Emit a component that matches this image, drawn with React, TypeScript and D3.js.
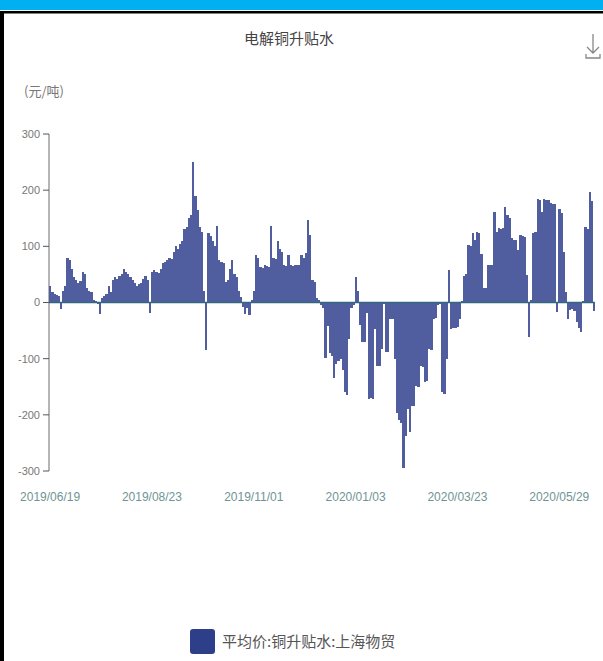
import { useEffect, useRef } from 'react';
import * as d3 from 'd3';

// one value per trading day (yuan / tonne)
const values = [
  30, 18, 15, 14, 12, -12, 20, 30, 80, 75,
  60, 45, 40, 35, 38, 55, 50, 25, 20, 18,
  5, 2, -3, -20, 8, 12, 15, 30, 18, 40,
  45, 42, 48, 50, 60, 55, 50, 45, 40, 35,
  30, 33, 35, 42, 48, 40, -18, 55, 58, 55,
  52, 60, 70, 72, 75, 80, 78, 90, 100, 95,
  105, 110, 130, 135, 150, 155, 250, 190, 165, 135,
  125, 20, -85, 123, 118, 110, 100, 137, 75, 72,
  70, 37, 40, 60, 75, 50, 45, 20, 10, -8,
  -20, -10, -22, 5, 20, 84, 80, 64, 62, 66,
  65, 63, 137, 80, 78, 110, 96, 90, 66, 65,
  84, 66, 65, 67, 66, 66, 84, 80, 88, 147,
  120, 40, 36, 8, 5, -5, -9, -98, -42, -90,
  -95, -134, -110, -105, -100, -120, -160, -165, -65, -10,
  -5, 45, 20, -40, -71, -70, -18, -172, -170, -172,
  -48, -113, -113, -83, -3, -89, -89, -30, -30, -100,
  -196, -210, -214, -295, -237, -190, -230, -184, -184, -148,
  -150, -113, -115, -142, -140, -83, -85, -30, -28, -5,
  -3, -160, -163, -100, 57, -47, -46, -45, -44, -30,
  2, 48, 50, 102, 100, 123, 111, 126, 124, 87,
  25, 25, 67, 66, 67, 161, 126, 132, 130, 132,
  170, 156, 150, 114, 111, 112, 93, 120, 118, 116,
  49, -61, 5, 123, 125, 185, 183, 161, 185, 183,
  182, 178, 176, 175, -17, 167, 160, 90, 19, -29,
  -14, -12, -15, -34, -45, -52, 2, 135, 130, 197,
  180, -15,
];

const xLabels = ['2019/06/19', '2019/08/23', '2019/11/01', '2020/01/03', '2020/03/23', '2020/05/29'];
const labelEvery = 47;
const yTicks = [300, 200, 100, 0, -100, -200, -300];

const title = '电解铜升贴水';
const unit = '(元/吨)';
const seriesName = '平均价:铜升贴水:上海物贸';

export default function App() {
  const svgRef = useRef(null);

  useEffect(() => {
    const width = 603;
    const height = 661;
    const left = 49;
    const right = 595;
    const top = 134;
    const bottom = 471;

    const x = d3
      .scaleBand()
      .domain(values.map((_, i) => String(i)))
      .range([left, right])
      .paddingInner(0);

    const y = d3.scaleLinear().domain([-300, 300]).range([bottom, top]);

    const svg = d3.select(svgRef.current);
    svg.selectAll('*').remove();
    svg.attr('width', width).attr('height', height);

    svg.append('rect').attr('width', width).attr('height', height).attr('fill', '#fff');

    // top band and panel frame
    svg.append('rect').attr('x', 0).attr('y', 0).attr('width', width).attr('height', 10).attr('fill', '#00b0f0');
    svg.append('rect').attr('x', 0).attr('y', 11).attr('width', width).attr('height', 2.5).attr('fill', '#000');
    svg.append('rect').attr('x', 0).attr('y', 11).attr('width', 4).attr('height', height).attr('fill', '#000');

    svg
      .append('text')
      .attr('x', 289)
      .attr('y', 44)
      .attr('text-anchor', 'middle')
      .attr('font-size', 15)
      .attr('fill', '#444')
      .text(title);

    // download icon
    const icon = svg.append('g').attr('stroke', '#888').attr('fill', 'none').attr('stroke-width', 1.3);
    icon.append('path').attr('d', 'M593,34 V53 M587,47 L593,53 L599,47');
    icon.append('path').attr('d', 'M586,54 V58 H600 V54');

    svg
      .append('text')
      .attr('x', 24)
      .attr('y', 96)
      .attr('font-size', 13)
      .attr('fill', '#777')
      .text(unit);

    // y axis
    svg
      .append('line')
      .attr('x1', left).attr('x2', left)
      .attr('y1', y(300)).attr('y2', y(-300))
      .attr('stroke', '#b5b5b5')
      .attr('stroke-width', 2);

    const yAxis = svg.append('g');
    yTicks.forEach((t) => {
      yAxis
        .append('line')
        .attr('x1', left - 6).attr('x2', left)
        .attr('y1', y(t)).attr('y2', y(t))
        .attr('stroke', '#555');
      yAxis
        .append('text')
        .attr('x', left - 9)
        .attr('y', y(t))
        .attr('dy', '0.35em')
        .attr('text-anchor', 'end')
        .attr('font-size', 11)
        .attr('font-family', 'Liberation Sans, Arial, sans-serif')
        .attr('fill', '#777')
        .text(t);
    });

    // bars
    svg
      .append('g')
      .attr('fill', '#505e9f')
      .attr('shape-rendering', 'crispEdges')
      .selectAll('rect')
      .data(values)
      .join('rect')
      .attr('x', (_, i) => x(String(i)))
      .attr('width', x.bandwidth() + 0.3)
      .attr('y', (d) => y(Math.max(0, d)))
      .attr('height', (d) => Math.abs(y(d) - y(0)));

    // zero line
    svg
      .append('line')
      .attr('x1', left).attr('x2', right)
      .attr('y1', y(0)).attr('y2', y(0))
      .attr('stroke', '#35687f')
      .attr('stroke-width', 1.5);

    // x labels
    xLabels.forEach((lab, k) => {
      const i = String(k * labelEvery);
      svg
        .append('text')
        .attr('x', x(i) + x.bandwidth() / 2)
        .attr('y', 501)
        .attr('text-anchor', 'middle')
        .attr('font-size', 12)
        .attr('font-family', 'Liberation Sans, Arial, sans-serif')
        .attr('fill', '#6f9494')
        .text(lab);
    });

    // legend
    svg
      .append('rect')
      .attr('x', 190).attr('y', 629)
      .attr('width', 25).attr('height', 25)
      .attr('rx', 3)
      .attr('fill', '#2e3f8a');
    svg
      .append('text')
      .attr('x', 222)
      .attr('y', 647)
      .attr('font-size', 15)
      .attr('fill', '#555')
      .text(seriesName);
  }, []);

  return (
    <svg ref={svgRef} style={{ position: 'fixed', left: 0, top: 0, fontFamily: 'Noto Sans CJK SC, sans-serif' }} />
  );
}
